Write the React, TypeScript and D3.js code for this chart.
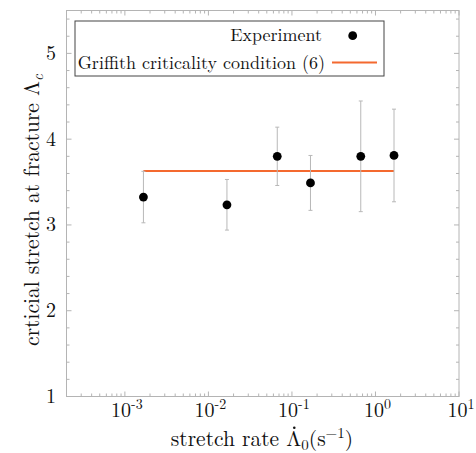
import React, { useLayoutEffect, useRef, useState } from "react";
import * as d3 from "d3";

const rates = [0.001667, 0.01667, 0.0667, 0.1667, 0.6667, 1.667];
const stretch = [3.325, 3.235, 3.80, 3.49, 3.80, 3.81];
const errors = [0.30, 0.295, 0.34, 0.32, 0.645, 0.54];
const griffithValue = 3.63;
const griffithRange = [0.001667, 1.667];
const xDecades = [-3, -2, -1, 0, 1];
const yTicks = [1, 2, 3, 4, 5];

const W = 476, H = 453;
const L = 66.5, R = 459, T = 10.5, B = 396.5;
const FONT = '"Latin Modern Roman", "Liberation Serif", serif';
const AX = "#b4b4b4";
const ORANGE = "#f4692f";
const FS_LEG = 18;
const FS_TICK = 20;
const FS_SUP = 14;
const FS_LAB = 21.5;
const FS_SUB = 15;
const TXT = { fontFamily: FONT };

export default function App() {
  const x = d3.scaleLog().domain([2e-4, 10]).range([L, R]);
  const y = d3.scaleLinear().domain([1, 5.5]).range([B, T]);
  const xLabRef = useRef<SVGTextElement>(null);
  const [dot, setDot] = useState<{ x: number; y: number } | null>(null);

  useLayoutEffect(() => {
    const el = xLabRef.current;
    if (!el) return;
    try {
      const idx = "stretch rate ".length;
      const ext = el.getExtentOfChar(idx);
      setDot({ x: ext.x + ext.width / 2 + 0.5, y: 446 - FS_LAB * 0.683 - 3.5 });
    } catch (e) {
      // ignore
    }
  }, []);

  const xMinor: number[] = [];
  for (let e = -4; e <= 0; e++) {
    for (let k = 1; k <= 9; k++) {
      const v = k * Math.pow(10, e);
      if (v >= 2e-4 && v <= 10) xMinor.push(v);
    }
  }
  xMinor.push(10);
  const yMinor = d3.range(1, 5.5001, 0.2).map((v) => +v.toFixed(2));

  return (
    <svg width={W} height={H} style={{ position: "absolute", left: 0, top: 0, background: "#fff" }}>
      <rect x={0} y={0} width={W} height={H} fill="#fff" />
      <rect x={L} y={T} width={R - L} height={B - T} fill="none" stroke={AX} strokeWidth={1} />
      {xMinor.map((v, i) => {
        const isMajor = Math.abs(Math.log10(v) - Math.round(Math.log10(v))) < 1e-9;
        const len = isMajor ? 5 : 3;
        const px = x(v);
        return (
          <g key={"xm" + i} stroke={AX} strokeWidth={1}>
            <line x1={px} x2={px} y1={B} y2={B - len} />
            <line x1={px} x2={px} y1={T} y2={T + len} />
          </g>
        );
      })}
      {yMinor.map((v, i) => {
        const isMajor = Math.abs(v - Math.round(v)) < 1e-6;
        const len = isMajor ? 5 : 3;
        const py = y(v);
        return (
          <g key={"ym" + i} stroke={AX} strokeWidth={1}>
            <line x1={L} x2={L + len} y1={py} y2={py} />
            <line x1={R} x2={R - len} y1={py} y2={py} />
          </g>
        );
      })}
      {xDecades.map((e) => (
        <text key={"xl" + e} x={x(Math.pow(10, e)) + 2} y={417} fontSize={FS_TICK} textAnchor="middle" fill="#111" style={TXT}>
          10<tspan fontSize={FS_SUP} dy={-8}>{e < 0 ? "-" + Math.abs(e) : String(e)}</tspan>
        </text>
      ))}
      {yTicks.map((v) => (
        <text key={"yl" + v} x={56} y={y(v) + 6.5} fontSize={FS_TICK} textAnchor="end" fill="#111" style={TXT}>
          {v}
        </text>
      ))}
      <text ref={xLabRef} x={262} y={446} fontSize={FS_LAB} textAnchor="middle" fill="#111" style={TXT}>
        stretch rate Λ<tspan fontSize={FS_SUB} dy={4}>0</tspan>
        <tspan dy={-4}>(s</tspan>
        <tspan fontSize={FS_SUB} dy={-8}>−1</tspan>
        <tspan dy={8}>)</tspan>
      </text>
      {dot && <circle cx={dot.x} cy={dot.y} r={1.3} fill="#111" />}
      <text transform={`translate(38.5, 210) rotate(-90)`} fontSize={FS_LAB} textAnchor="middle" fill="#111" style={TXT}>
        crticial stretch at fracture Λ<tspan fontSize={FS_SUB} dy={4} fontStyle="italic">c</tspan>
      </text>
      <line x1={x(griffithRange[0])} x2={x(griffithRange[1])} y1={y(griffithValue)} y2={y(griffithValue)} stroke={ORANGE} strokeWidth={2} />
      {rates.map((r, i) => {
        const px = x(r);
        const y1 = y(stretch[i] + errors[i]);
        const y2 = y(stretch[i] - errors[i]);
        return (
          <g key={"eb" + i} stroke="#b8b8b8" strokeWidth={1}>
            <line x1={px} x2={px} y1={y1} y2={y2} />
            <line x1={px - 2} x2={px + 2} y1={y1} y2={y1} />
            <line x1={px - 2} x2={px + 2} y1={y2} y2={y2} />
          </g>
        );
      })}
      {rates.map((r, i) => (
        <circle key={"pt" + i} cx={x(r)} cy={y(stretch[i])} r={4.4} fill="#000" />
      ))}
      <rect x={75} y={21} width={309} height={55} fill="#fff" stroke="#444" strokeWidth={1} />
      <text x={322} y={40.5} fontSize={FS_LEG} textAnchor="end" fill="#111" style={TXT}>Experiment</text>
      <circle cx={352.7} cy={35.7} r={4.4} fill="#000" />
      <text x={325} y={69} fontSize={FS_LEG} textAnchor="end" fill="#111" style={TXT}>Griffith criticality condition (6)</text>
      <line x1={332} x2={377} y1={62.5} y2={62.5} stroke={ORANGE} strokeWidth={2} />
    </svg>
  );
}
